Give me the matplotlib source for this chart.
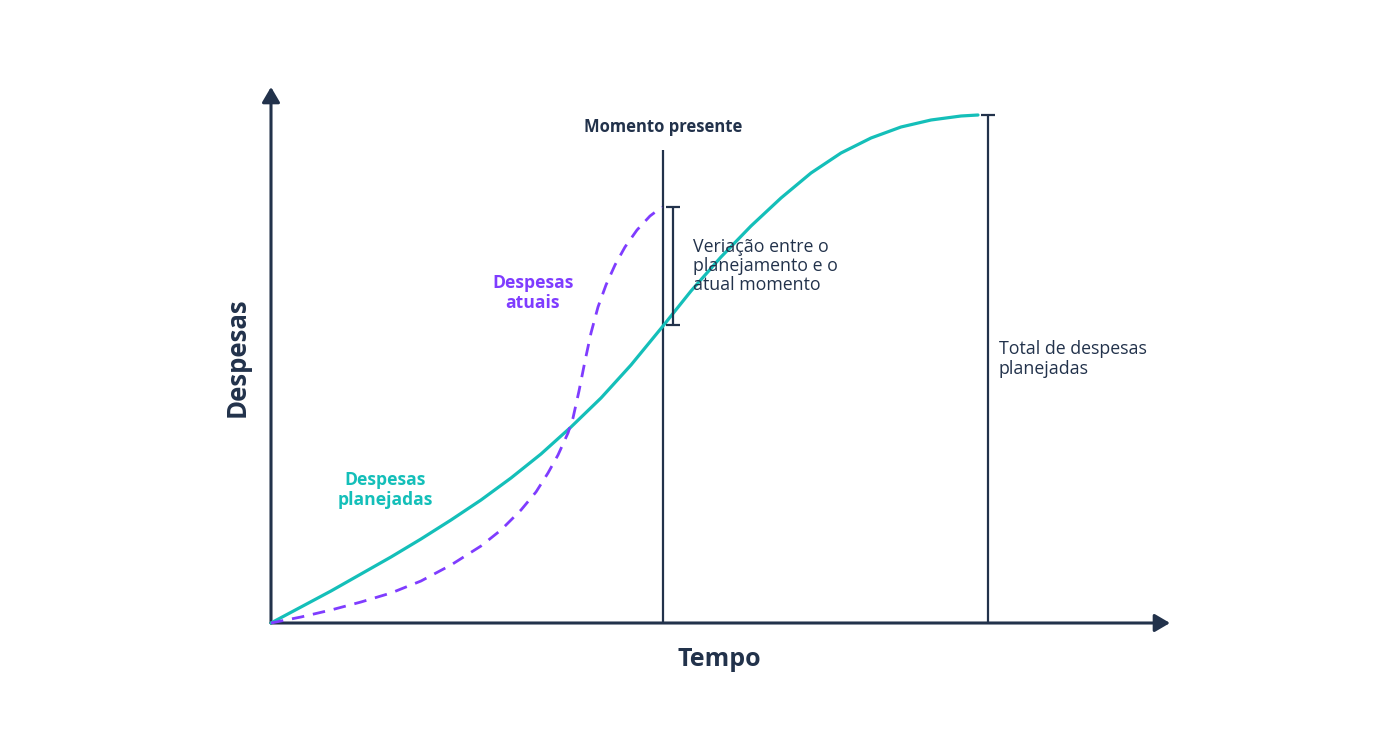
import matplotlib.pyplot as plt

# Farben
teal = '#14bfb9'
roxo = '#7f3cff'
azul = '#22324b'

# Daten (Einheiten relativ zum Ursprung, 1 Einheit ~ 1 Pixel)
tempo_plan = [0, 30, 60, 90, 120, 150, 180, 210, 240, 270, 300, 330, 360, 392,
              420, 450, 480, 510, 540, 570, 600, 630, 660, 690, 707]
desp_plan = [0, 16, 32, 49, 66, 84, 103, 123, 145, 169, 196, 225, 258, 297,
             332, 366, 397, 425, 450, 470, 485, 496, 503, 507, 508]

tempo_atual = [0, 30, 60, 90, 120, 150, 180, 210, 230, 250, 265, 277, 287, 297,
               302, 308, 314, 320, 327, 335, 344, 354, 366, 379, 391]
desp_atual = [0, 6, 13, 21, 30, 42, 58, 77, 93, 113, 131, 150, 168, 190,
              205, 232, 262, 290, 316, 338, 358, 376, 393, 407, 416]

momento_presente = 392
total_tempo = 717
total_plan = 508
var_topo = 416
var_base = 298
eixo_x_fim = 899
eixo_y_fim = 536
linha_presente_topo = 473

fig = plt.figure(figsize=(13.92, 7.33), dpi=100)
ax = fig.add_axes([0, 0, 1, 1])
ax.set_xlim(-271, 1392 - 271)
ax.set_ylim(-(733 - 623), 623)
ax.axis('off')

# Achsen mit Pfeilen
pfeil = dict(arrowstyle='-|>,head_length=0.46,head_width=0.27', mutation_scale=20,
             lw=2.2, color=azul, shrinkA=0, shrinkB=0)
ax.annotate('', xy=(eixo_x_fim, 0), xytext=(0, 0), arrowprops=pfeil)
ax.annotate('', xy=(0, eixo_y_fim), xytext=(0, 0), arrowprops=pfeil)

# Kurven
ax.plot(tempo_plan, desp_plan, color=teal, lw=2.3, solid_capstyle='round',
        solid_joinstyle='round', zorder=3)
ax.plot(tempo_atual, desp_atual, color=roxo, lw=2.0, linestyle=(0, (4.5, 3.2)), zorder=3)

fonte = 'Open Sans'

# Momento presente
ax.vlines(momento_presente, 0, linha_presente_topo, color=azul, lw=1.6, zorder=2)
ax.text(momento_presente, 496, 'Momento presente', ha='center', va='center',
        fontsize=12, fontweight='bold', color=azul, family=fonte)

# Variação
vx = momento_presente + 10
ax.vlines(vx, var_base, var_topo, color=azul, lw=1.6, zorder=4)
ax.hlines([var_base, var_topo], vx - 7, vx + 7, color=azul, lw=1.6, zorder=4)
ax.text(momento_presente + 30, 357, 'Veriação entre o\nplanejamento e o\natual momento',
        ha='left', va='center', fontsize=12.8, color=azul, family=fonte, linespacing=1.08)

# Total
ax.vlines(total_tempo, 0, total_plan, color=azul, lw=1.6)
ax.hlines(total_plan, total_tempo - 7, total_tempo + 7, color=azul, lw=1.6)
ax.text(total_tempo + 11, 264, 'Total de despesas\nplanejadas', ha='left', va='center',
        fontsize=12.8, color=azul, family=fonte, linespacing=1.08)

# Beschriftungen der Kurven
ax.text(114, 133, 'Despesas\nplanejadas', ha='center', va='center', fontsize=12.6,
        fontweight='bold', color=teal, family=fonte, linespacing=1.08)
ax.text(262, 330, 'Despesas\natuais', ha='center', va='center', fontsize=12.6,
        fontweight='bold', color=roxo, family=fonte, linespacing=1.08)

# Achsentitel
ax.text(-34, 266, 'Despesas', rotation=90, ha='center', va='center', fontsize=18.5,
        fontweight='bold', color=azul, family=fonte)
ax.text(448, -37, 'Tempo', ha='center', va='center', fontsize=18,
        fontweight='bold', color=azul, family=fonte)

fig.savefig('out.png', dpi=100, facecolor='white')
